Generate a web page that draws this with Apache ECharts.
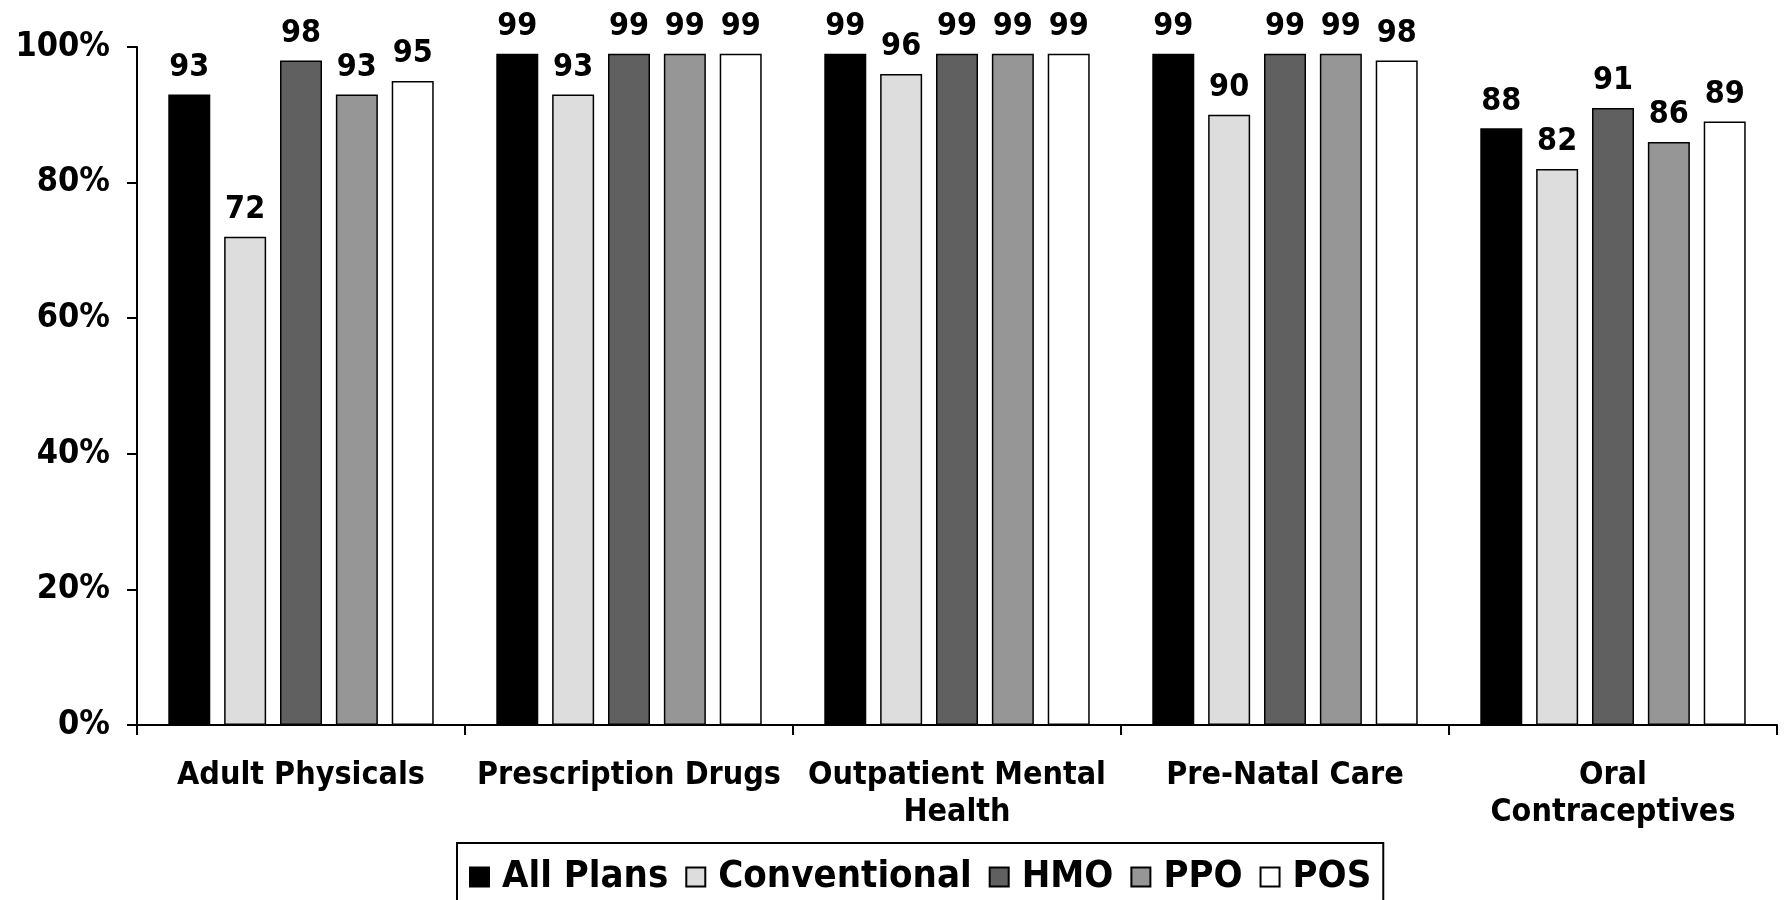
<!DOCTYPE html>
<html>
<head>
<meta charset="utf-8">
<script src="https://cdn.jsdelivr.net/npm/echarts@6/dist/echarts.min.js"></script>
<style>html,body{margin:0;padding:0;background:#fff}#c{width:1784px;height:900px}</style>
</head>
<body>
<div id="c"></div>
<script>
const categories = ['Adult Physicals', 'Prescription Drugs', 'Outpatient Mental\nHealth', 'Pre-Natal Care', 'Oral\nContraceptives'];
const seriesNames = ['All Plans', 'Conventional', 'HMO', 'PPO', 'POS'];
const allPlans = [93, 99, 99, 99, 88];
const conventional = [72, 93, 96, 90, 82];
const hmo = [98, 99, 99, 99, 91];
const ppo = [93, 99, 99, 99, 86];
const pos = [95, 99, 99, 98, 89];
const colors = ['#000000', '#dddddd', '#606060', '#969696', '#ffffff'];
const values = [allPlans, conventional, hmo, ppo, pos];
const FONT = '"DejaVu Sans Condensed", "DejaVu Sans", sans-serif';

const chart = echarts.init(document.getElementById('c'), null, {renderer: 'canvas'});
chart.setOption({
  animation: false,
  backgroundColor: '#ffffff',
  textStyle: {fontFamily: FONT},
  grid: {left: 137, right: 7, top: 47, bottom: 175, containLabel: false},
  legend: {
    left: 457, top: 843,
    data: seriesNames,
    icon: 'rect',
    itemWidth: 19, itemHeight: 19,
    itemGap: 17,
    padding: [15, 12, 12, 12],
    borderColor: '#000', borderWidth: 2,
    backgroundColor: '#fff',
    textStyle: {fontFamily: FONT, fontWeight: 'bold', fontSize: 38, color: '#000', padding: [0, 0, 0, 8]}
  },
  xAxis: {
    type: 'category',
    data: categories,
    axisLine: {lineStyle: {color: '#000', width: 2}},
    axisTick: {show: true, length: 10, lineStyle: {color: '#000', width: 2}},
    axisLabel: {fontFamily: FONT, fontWeight: 'bold', fontSize: 32, color: '#000', margin: 32, lineHeight: 37, interval: 0}
  },
  yAxis: {
    type: 'value',
    min: 0, max: 100, interval: 20,
    splitLine: {show: false},
    axisLine: {show: true, lineStyle: {color: '#000', width: 2}},
    axisTick: {show: true, length: 10, lineStyle: {color: '#000', width: 2}},
    axisLabel: {formatter: '{value}%', fontFamily: FONT, fontWeight: 'bold', fontSize: 34, color: '#000', margin: 27}
  },
  series: seriesNames.map((name, i) => ({
    name: name,
    type: 'bar',
    data: values[i],
    barWidth: 42,
    barGap: '33%',
    itemStyle: {color: colors[i], borderColor: '#000', borderWidth: 1.5},
    label: {show: true, position: 'top', distance: 11, fontFamily: FONT, fontWeight: 'bold', fontSize: 32, color: '#000'}
  }))
});
</script>
</body>
</html>
